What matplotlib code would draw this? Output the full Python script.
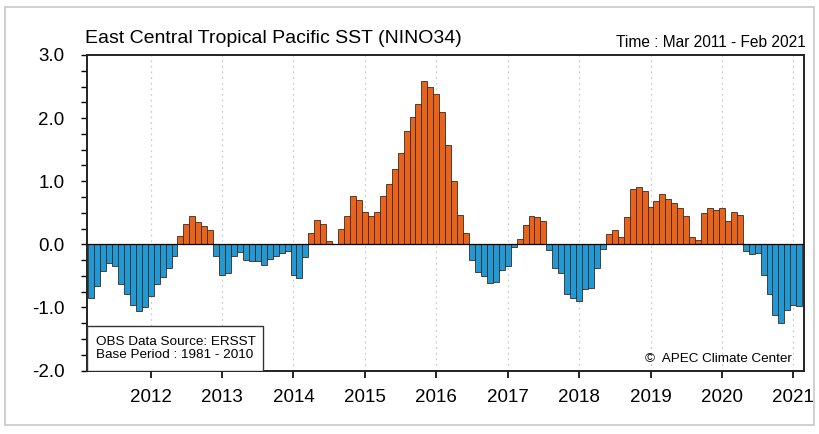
import numpy as np
import matplotlib
matplotlib.use('Agg')
import matplotlib.pyplot as plt
from matplotlib.patches import Rectangle

plt.rcParams['font.family'] = ['Liberation Sans', 'DejaVu Sans']

# monthly NINO3.4 SST anomaly, Mar 2011 - Feb 2021
y2011 = [-0.85, -0.66, -0.42, -0.29, -0.35, -0.63, -0.79, -0.96, -1.06, -0.99]
y2012 = [-0.82, -0.63, -0.52, -0.37, -0.19, 0.13, 0.32, 0.45, 0.35, 0.29, 0.22, -0.19]
y2013 = [-0.48, -0.46, -0.19, -0.12, -0.25, -0.26, -0.26, -0.33, -0.23, -0.19, -0.13, -0.10]
y2014 = [-0.48, -0.54, -0.20, 0.18, 0.38, 0.32, 0.05, 0.01, 0.24, 0.45, 0.76, 0.70]
y2015 = [0.51, 0.45, 0.51, 0.76, 0.96, 1.20, 1.45, 1.80, 2.02, 2.23, 2.58, 2.50]
y2016 = [2.38, 2.09, 1.57, 1.01, 0.47, 0.18, -0.25, -0.44, -0.50, -0.61, -0.59, -0.40]
y2017 = [-0.34, -0.04, 0.09, 0.31, 0.45, 0.44, 0.37, -0.09, -0.38, -0.46, -0.78, -0.85]
y2018 = [-0.90, -0.71, -0.70, -0.37, -0.08, 0.16, 0.22, 0.12, 0.43, 0.88, 0.91, 0.84]
y2019 = [0.59, 0.68, 0.80, 0.71, 0.66, 0.57, 0.45, 0.12, 0.07, 0.50, 0.57, 0.54]
y2020 = [0.57, 0.37, 0.51, 0.47, -0.10, -0.16, -0.14, -0.49, -0.78, -1.12, -1.24, -1.04]
y2021 = [-0.96, -0.98]

years = [2012, 2013, 2014, 2015, 2016, 2017, 2018, 2019, 2020, 2021]

anom = np.array(y2011 + y2012 + y2013 + y2014 + y2015 + y2016 + y2017 + y2018
                + y2019 + y2020 + y2021)
x = np.arange(len(anom))
# January of each year, counted from Mar 2011
year_pos = [10 + 12 * i for i in range(len(years))]

fig = plt.figure(figsize=(8.19, 4.34), dpi=100)
fig.patches.append(Rectangle((0.006, 0.02), 0.988, 0.963, transform=fig.transFigure,
                             fill=False, edgecolor='#c8c8c8', linewidth=1.2))
ax = fig.add_axes([0.1059, 0.1463, 0.8758, 0.727])

colors = ['#e8631c' if v > 0 else '#2099d4' for v in anom]
ax.bar(x, anom, width=1.0, color=colors, edgecolor='#3a2a20', linewidth=0.6, zorder=3)
ax.axhline(0, color='black', linewidth=0.9, zorder=4)

for p in year_pos:
    ax.axvline(p, color='#cccccc', linestyle=(0, (1.5, 3)), linewidth=0.9, zorder=1)

ax.set_xlim(-0.75, 119.8)
ax.set_ylim(-2.0, 3.0)
ax.set_xticks(year_pos)
ax.set_xticklabels([str(y) for y in years], fontsize=13.5)
ax.set_yticks([-2, -1, 0, 1, 2, 3])
ax.set_yticklabels(['%.1f' % v for v in [-2, -1, 0, 1, 2, 3]], fontsize=13.5)
ax.set_yticks(np.arange(-2, 3.01, 0.25), minor=True)
ax.tick_params(axis='y', which='both', direction='out', length=4, width=1, pad=12)
ax.tick_params(axis='x', which='both', direction='out', length=5, width=1.2, pad=8)
ax.tick_params(axis='x', which='minor', bottom=False)
for s in ax.spines.values():
    s.set_linewidth(1.4)
    s.set_color('#222222')

fig.text(0.104, 0.912, 'East Central Tropical Pacific SST (NINO34)', fontsize=14,
         ha='left', va='center')
fig.text(0.984, 0.902, 'Time : Mar 2011 - Feb 2021', fontsize=11.2, ha='right', va='center')

# info box sitting in the lower-left corner of the plot
ax.add_patch(Rectangle((0, 0), 0.246, 0.141, transform=ax.transAxes, facecolor='white',
                       edgecolor='#333333', linewidth=1.0, zorder=5))
ax.text(0.013, 0.07, 'OBS Data Source: ERSST\nBase Period : 1981 - 2010',
        transform=ax.transAxes, fontsize=9.7, ha='left', va='center', linespacing=1.1,
        zorder=6)
ax.text(0.983, 0.018, '\u00a9  APEC Climate Center', transform=ax.transAxes, fontsize=9.7,
        ha='right', va='bottom', zorder=5)

fig.savefig('out.png', dpi=100)
